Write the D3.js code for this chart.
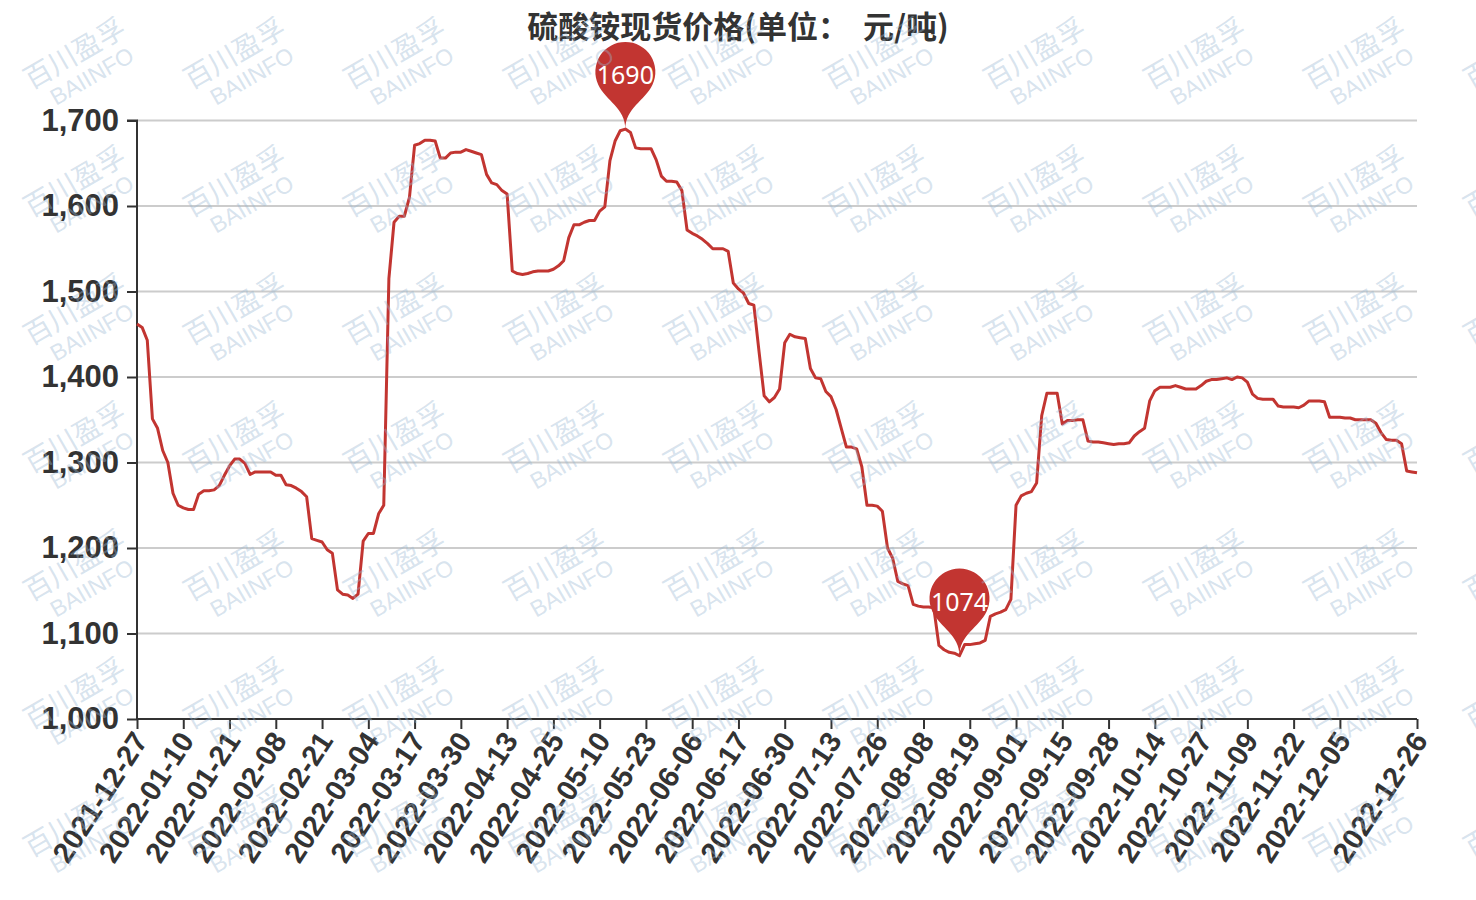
<!DOCTYPE html>
<html>
<head>
<meta charset="utf-8">
<script src="https://cdn.jsdelivr.net/npm/d3@7"></script>
<style>
html,body{margin:0;padding:0;background:#fff;}
svg{display:block;}
</style>
</head>
<body>
<svg id="chart" width="1476" height="900"></svg>
<script>
const title = "硫酸铵现货价格(单位：  元/吨)";

const dates = [
"2021-12-27","2021-12-28","2021-12-29","2021-12-30","2021-12-31",
"2022-01-04","2022-01-05","2022-01-06","2022-01-07","2022-01-10","2022-01-11","2022-01-12","2022-01-13","2022-01-14","2022-01-17","2022-01-18","2022-01-19","2022-01-20","2022-01-21","2022-01-24","2022-01-25","2022-01-26","2022-01-27","2022-01-28","2022-01-29","2022-01-30",
"2022-02-07","2022-02-08","2022-02-09","2022-02-10","2022-02-11","2022-02-14","2022-02-15","2022-02-16","2022-02-17","2022-02-18","2022-02-21","2022-02-22","2022-02-23","2022-02-24","2022-02-25","2022-02-28",
"2022-03-01","2022-03-02","2022-03-03","2022-03-04","2022-03-07","2022-03-08","2022-03-09","2022-03-10","2022-03-11","2022-03-14","2022-03-15","2022-03-16","2022-03-17","2022-03-18","2022-03-21","2022-03-22","2022-03-23","2022-03-24","2022-03-25","2022-03-28","2022-03-29","2022-03-30","2022-03-31",
"2022-04-01","2022-04-02","2022-04-06","2022-04-07","2022-04-08","2022-04-11","2022-04-12","2022-04-13","2022-04-14","2022-04-15","2022-04-18","2022-04-19","2022-04-20","2022-04-21","2022-04-22","2022-04-24","2022-04-25","2022-04-26","2022-04-27","2022-04-28","2022-04-29",
"2022-05-05","2022-05-06","2022-05-07","2022-05-09","2022-05-10","2022-05-11","2022-05-12","2022-05-13","2022-05-16","2022-05-17","2022-05-18","2022-05-19","2022-05-20","2022-05-23","2022-05-24","2022-05-25","2022-05-26","2022-05-27","2022-05-30","2022-05-31",
"2022-06-01","2022-06-02","2022-06-06","2022-06-07","2022-06-08","2022-06-09","2022-06-10","2022-06-13","2022-06-14","2022-06-15","2022-06-16","2022-06-17","2022-06-20","2022-06-21","2022-06-22","2022-06-23","2022-06-24","2022-06-27","2022-06-28","2022-06-29","2022-06-30",
"2022-07-01","2022-07-04","2022-07-05","2022-07-06","2022-07-07","2022-07-08","2022-07-11","2022-07-12","2022-07-13","2022-07-14","2022-07-15","2022-07-18","2022-07-19","2022-07-20","2022-07-21","2022-07-22","2022-07-25","2022-07-26","2022-07-27","2022-07-28","2022-07-29",
"2022-08-01","2022-08-02","2022-08-03","2022-08-04","2022-08-05","2022-08-08","2022-08-09","2022-08-10","2022-08-11","2022-08-12","2022-08-15","2022-08-16","2022-08-17","2022-08-18","2022-08-19","2022-08-22","2022-08-23","2022-08-24","2022-08-25","2022-08-26","2022-08-29","2022-08-30","2022-08-31",
"2022-09-01","2022-09-02","2022-09-05","2022-09-06","2022-09-07","2022-09-08","2022-09-09","2022-09-13","2022-09-14","2022-09-15","2022-09-16","2022-09-19","2022-09-20","2022-09-21","2022-09-22","2022-09-23","2022-09-26","2022-09-27","2022-09-28","2022-09-29","2022-09-30",
"2022-10-08","2022-10-09","2022-10-10","2022-10-11","2022-10-12","2022-10-13","2022-10-14","2022-10-17","2022-10-18","2022-10-19","2022-10-20","2022-10-21","2022-10-24","2022-10-25","2022-10-26","2022-10-27","2022-10-28","2022-10-31",
"2022-11-01","2022-11-02","2022-11-03","2022-11-04","2022-11-07","2022-11-08","2022-11-09","2022-11-10","2022-11-11","2022-11-14","2022-11-15","2022-11-16","2022-11-17","2022-11-18","2022-11-21","2022-11-22","2022-11-23","2022-11-24","2022-11-25","2022-11-28","2022-11-29","2022-11-30",
"2022-12-01","2022-12-02","2022-12-05","2022-12-06","2022-12-07","2022-12-08","2022-12-09","2022-12-12","2022-12-13","2022-12-14","2022-12-15","2022-12-16","2022-12-19","2022-12-20","2022-12-21","2022-12-22","2022-12-23","2022-12-26"
];

const prices = [
1462,1458,1443,1351,1340,1314,1300,1264,1250,1247,
1245,1245,1263,1267,1267,1268,1273,1285,1296,1304,
1304,1299,1286,1289,1289,1289,1289,1285,1285,1274,
1273,1270,1266,1260,1211,1209,1207,1198,1194,1151,
1146,1145,1141,1146,1208,1217,1217,1240,1250,1515,
1581,1588,1588,1610,1671,1673,1677,1677,1676,1656,
1656,1662,1663,1663,1666,1664,1662,1660,1637,1627,
1625,1618,1614,1524,1521,1520,1521,1523,1524,1524,
1524,1526,1530,1536,1563,1578,1578,1581,1583,1583,
1594,1599,1653,1676,1688,1690,1686,1668,1667,1667,
1667,1654,1635,1629,1629,1628,1618,1572,1568,1565,
1561,1556,1550,1550,1550,1547,1510,1503,1498,1486,
1484,1430,1378,1371,1376,1386,1440,1450,1447,1446,
1445,1410,1399,1398,1383,1377,1362,1340,1318,1318,
1316,1295,1250,1250,1249,1243,1200,1188,1161,1158,
1156,1134,1132,1131,1131,1130,1086,1081,1078,1077,
1074,1087,1087,1088,1089,1092,1120,1123,1125,1128,
1140,1250,1261,1264,1266,1276,1355,1381,1381,1381,
1345,1349,1349,1350,1350,1325,1324,1324,1323,1322,
1321,1322,1322,1323,1331,1336,1340,1372,1384,1388,
1388,1388,1390,1388,1386,1386,1386,1390,1395,1397,
1397,1398,1399,1397,1400,1399,1394,1380,1375,1374,
1374,1374,1366,1365,1365,1365,1364,1367,1372,1372,
1372,1371,1353,1353,1353,1352,1352,1350,1350,1350,
1350,1346,1335,1327,1326,1326,1322,1290,1289,1288
];

const xTickLabels = [
"2021-12-27","2022-01-10","2022-01-21","2022-02-08","2022-02-21","2022-03-04","2022-03-17",
"2022-03-30","2022-04-13","2022-04-25","2022-05-10","2022-05-23","2022-06-06","2022-06-17",
"2022-06-30","2022-07-13","2022-07-26","2022-08-08","2022-08-19","2022-09-01","2022-09-15",
"2022-09-28","2022-10-14","2022-10-27","2022-11-09","2022-11-22","2022-12-05","2022-12-26"
];
const yTicks = [1000,1100,1200,1300,1400,1500,1600,1700];
const watermarkCN = "百川盈孚";
const watermarkEN = "BAIINFO";

const svg = d3.select("#chart");
const L = 137, R = 1417, T = 120.5, B = 719;
const x = d3.scalePoint().domain(dates).range([L, R]);
const y = d3.scaleLinear().domain([1000, 1700]).range([B, T]);
const lineColor = "#c23531";
const axisFont = "'Liberation Sans', Arial, sans-serif";

// grid lines
svg.append("g").selectAll("line").data(yTicks.filter(d => d > 1000)).join("line")
  .attr("x1", L).attr("x2", R).attr("y1", d => y(d)).attr("y2", d => y(d))
  .attr("stroke", "#ccc").attr("stroke-width", 2);

// y axis
const yAxis = d3.axisLeft(y).tickValues(yTicks).tickFormat(d3.format(",")).tickSize(10).tickPadding(8);
const gy = svg.append("g").attr("transform", `translate(${L},0)`).call(yAxis);
gy.select(".domain").attr("stroke", "#333").attr("stroke-width", 2).attr("d", `M-10,${T}H0V${B}`);
gy.selectAll(".tick line").attr("stroke", "#333").attr("stroke-width", 2);
gy.selectAll(".tick text").attr("fill", "#333").attr("font-family", axisFont)
  .attr("font-weight", "bold").attr("font-size", 31);

// x axis
const xAxis = d3.axisBottom(x).tickValues(xTickLabels).tickSize(10).tickFormat(d => d);
const gx = svg.append("g").attr("transform", `translate(0,${B})`).call(xAxis);
gx.select(".domain").attr("stroke", "#333").attr("stroke-width", 2).attr("d", `M${L},0H${R}`);
gx.selectAll(".tick line").attr("stroke", "#333").attr("stroke-width", 2);
gx.selectAll(".tick text")
  .attr("fill", "#333").attr("font-family", axisFont).attr("font-weight", "bold").attr("font-size", 29)
  .attr("text-anchor", "end").attr("dominant-baseline", "central")
  .attr("x", 0).attr("y", 0).attr("dy", null)
  .attr("transform", "translate(3,16) rotate(-57)");

// pin markers
function pinPath(px, tip) {
  const w = 60, h = 100, r = w / 2;
  const dy = r * r / (h - r);
  const cy = tip - h + r + dy;
  const ang = Math.asin(dy / r);
  const dx = Math.cos(ang) * r;
  const tanX = Math.sin(ang), tanY = Math.cos(ang);
  const cp = r * 0.6, cp2 = r * 0.7;
  return `M${px - dx},${cy + dy}` +
    `A${r},${r} 0 1 1 ${px + dx},${cy + dy}` +
    `C${px + dx - tanX * cp},${cy + dy + tanY * cp} ${px},${tip - cp2} ${px},${tip}` +
    `C${px},${tip - cp2} ${px - dx + tanX * cp},${cy + dy + tanY * cp} ${px - dx},${cy + dy}Z`;
}
const maxV = d3.max(prices), minV = d3.min(prices);
const markers = [
  { i: prices.indexOf(maxV), v: maxV },
  { i: prices.indexOf(minV), v: minV }
];
const gm = svg.append("g");
markers.forEach(m => {
  const px = x(dates[m.i]), py = y(m.v);
  gm.append("path").attr("d", pinPath(px, py)).attr("fill", lineColor);
});

// line
const line = d3.line().x((d, i) => x(dates[i])).y(d => y(d));
svg.append("path").datum(prices).attr("d", line)
  .attr("fill", "none").attr("stroke", lineColor).attr("stroke-width", 3)
  .attr("stroke-linejoin", "round");

// marker labels
markers.forEach(m => {
  const px = x(dates[m.i]), py = y(m.v);
  svg.append("text").attr("x", px).attr("y", py - 55)
    .attr("text-anchor", "middle").attr("dominant-baseline", "central")
    .attr("fill", "#fff").attr("font-family", "'Noto Sans', sans-serif").attr("font-size", 25)
    .text(m.v);
});

// title
svg.append("text").attr("x", 738).attr("y", 24)
  .attr("text-anchor", "middle").attr("dominant-baseline", "central")
  .attr("fill", "#333").attr("font-family", "'Noto Sans CJK SC', sans-serif")
  .attr("font-weight", "bold").attr("font-size", 31).style("white-space", "pre")
  .text(title);

// watermarks
const wm = svg.append("g").attr("pointer-events", "none");
const cols = d3.range(0, 10), rows = d3.range(0, 7);
rows.forEach(r => cols.forEach(c => {
  const bx = 31 + c * 160, by = 90 + r * 128;
  wm.append("text").attr("transform", `translate(${bx},${by}) rotate(-30)`)
    .attr("fill", "#9ab8d3").attr("fill-opacity", 0.4)
    .attr("font-family", "'Noto Sans CJK SC', sans-serif").attr("font-size", 28)
    .text(watermarkCN);
  wm.append("text").attr("transform", `translate(${bx + 25},${by + 16}) rotate(-30)`)
    .attr("fill", "#9ab8d3").attr("fill-opacity", 0.4)
    .attr("font-family", "'Liberation Sans', Arial, sans-serif").attr("font-size", 23)
    .text(watermarkEN);
}));
</script>
</body>
</html>
